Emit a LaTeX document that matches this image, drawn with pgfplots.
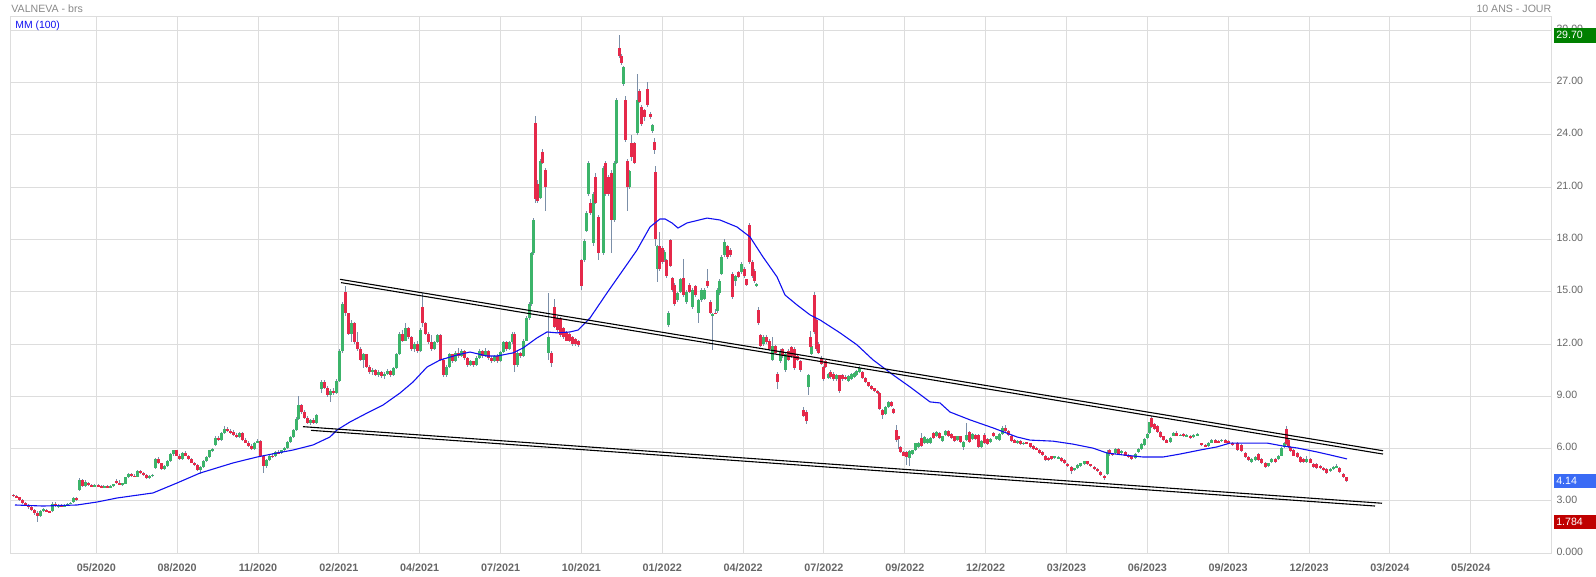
\documentclass[border=0pt]{standalone}
\usepackage{fontspec}
\setmainfont{Liberation Sans}
\usepackage{pgfplots}
\usepackage{pgfplotstable}
\pgfplotsset{compat=1.18}
\definecolor{gridc}{HTML}{DDDDDD}
\definecolor{wickc}{HTML}{7B8FA8}
\definecolor{upc}{HTML}{3CB46A}
\definecolor{dnc}{HTML}{E5294A}
\definecolor{labc}{HTML}{666666}
\definecolor{titc}{HTML}{888888}
\definecolor{boxg}{HTML}{008000}
\definecolor{boxb}{HTML}{3A6BF5}
\definecolor{boxr}{HTML}{C00000}
\definecolor{mac}{HTML}{1010F0}

\pgfplotstableread{
x o h l c
14 3.35 3.40 3.25 3.30
17 3.30 3.35 3.15 3.20
20 3.20 3.25 3.00 3.05
23 3.05 3.10 2.85 2.90
26 2.90 2.95 2.70 2.75
29 2.75 2.85 2.55 2.65
32 2.65 2.70 2.45 2.50
35 2.50 2.55 2.20 2.30
38 2.30 2.40 1.78 2.15
41 2.15 2.50 2.10 2.45
44 2.45 2.60 2.35 2.55
47 2.50 2.55 2.35 2.40
50 2.40 2.45 2.30 2.35
53 2.40 2.95 2.35 2.85
56 2.85 2.95 2.65 2.70
59 2.70 2.80 2.60 2.75
62 2.75 2.85 2.65 2.70
65 2.70 2.80 2.65 2.78
68 2.78 2.90 2.72 2.85
71 2.85 2.95 2.80 2.90
74 2.95 3.20 2.90 3.15
77 3.15 3.25 3.00 3.05
80 3.65 4.30 3.60 4.20
83 4.20 4.25 3.80 3.85
86 3.85 4.20 3.80 4.10
89 4.05 4.10 3.85 3.90
92 3.90 4.00 3.80 3.85
95 3.85 3.95 3.80 3.90
98 3.90 3.95 3.80 3.85
101 3.85 3.90 3.75 3.80
104 3.80 3.90 3.75 3.85
107 3.85 3.90 3.78 3.80
110 3.80 3.90 3.75 3.85
113 3.85 4.00 3.80 3.95
116 4.15 4.25 4.00 4.05
119 4.05 4.20 3.90 3.95
122 3.95 4.05 3.85 4.00
125 4.00 4.40 3.95 4.35
128 4.35 4.60 4.30 4.55
131 4.55 4.60 4.40 4.45
134 4.45 4.55 4.35 4.40
137 4.40 4.75 4.35 4.70
140 4.70 4.80 4.55 4.60
143 4.60 4.65 4.45 4.50
146 4.50 4.55 4.25 4.30
149 4.30 4.50 4.25 4.45
152 4.45 4.55 4.40 4.50
155 4.90 5.45 4.85 5.40
158 5.40 5.50 5.10 5.15
161 5.15 5.20 4.80 4.85
164 4.85 5.05 4.80 5.00
167 5.00 5.35 4.95 5.30
170 5.30 5.75 5.25 5.70
173 5.70 5.95 5.60 5.90
176 5.90 5.95 5.55 5.60
179 5.60 5.70 5.35 5.40
182 5.40 5.80 5.35 5.75
185 5.75 5.85 5.55 5.60
188 5.60 5.65 5.35 5.40
191 5.40 5.45 5.15 5.20
194 5.20 5.25 5.00 5.05
197 5.05 5.10 4.70 4.80
200 4.80 5.00 4.55 4.95
203 4.95 5.35 4.90 5.30
206 5.30 5.55 5.25 5.50
209 5.50 5.95 5.45 5.90
212 5.90 6.05 5.80 5.95
215 6.20 6.70 6.15 6.60
218 6.60 6.75 6.45 6.50
221 6.50 6.95 6.45 6.90
224 6.90 7.30 6.85 7.15
227 7.15 7.25 6.95 7.00
230 7.00 7.10 6.85 6.95
233 6.95 7.05 6.75 6.80
236 6.80 6.90 6.60 6.65
239 6.65 6.95 6.60 6.90
242 6.90 6.95 6.45 6.50
245 6.50 6.60 6.30 6.35
248 6.35 6.45 6.10 6.15
251 6.15 6.25 5.90 6.00
254 6.00 6.40 5.95 6.35
257 6.35 6.55 6.30 6.45
260 6.45 6.50 5.50 5.55
263 5.55 5.60 4.60 5.00
266 5.00 5.40 4.90 5.35
269 5.35 5.70 5.30 5.60
272 5.60 5.75 5.45 5.55
275 5.55 5.85 5.50 5.80
278 5.80 5.95 5.70 5.75
281 5.75 5.95 5.70 5.90
284 5.90 6.10 5.85 6.05
287 6.05 6.45 6.00 6.40
290 6.40 6.70 6.35 6.65
293 6.65 7.10 6.60 7.05
296 7.05 7.80 7.00 7.70
298 7.70 9.00 7.65 8.50
301 8.50 8.55 8.00 8.10
304 8.10 8.20 7.70 7.75
307 7.75 7.85 7.40 7.45
310 7.45 7.70 7.35 7.65
313 7.65 7.75 7.40 7.45
316 7.45 8.00 7.40 7.95
321 9.40 9.95 9.20 9.85
324 9.85 9.95 9.40 9.45
327 9.45 9.60 8.95 9.10
330 9.10 9.40 8.70 9.30
333 9.30 9.45 9.10 9.20
336 9.20 10.00 9.15 9.90
339 9.90 11.70 9.85 11.60
342 11.60 14.40 11.50 14.30
345 15.00 15.30 13.60 13.75
348 13.75 13.80 12.50 12.60
351 12.60 13.40 12.10 13.20
354 13.20 13.25 12.00 12.10
357 12.10 12.70 11.60 11.70
360 11.70 11.80 11.00 11.10
363 11.10 11.50 10.60 11.40
366 11.40 11.45 10.60 10.70
369 10.70 10.80 10.30 10.40
372 10.40 10.60 10.20 10.50
375 10.50 10.55 10.15 10.25
378 10.25 10.50 10.10 10.40
381 10.40 10.45 10.05 10.15
384 10.15 10.40 10.00 10.30
387 10.30 10.55 10.20 10.45
390 10.45 10.50 10.10 10.20
393 10.20 10.70 10.15 10.60
396 10.60 11.50 10.55 11.40
399 11.40 12.70 11.35 12.60
402 12.60 12.80 12.10 12.20
405 12.20 13.20 12.15 12.90
408 12.90 13.00 12.30 12.40
411 12.40 12.45 11.60 11.70
414 11.70 12.10 11.55 12.00
417 12.00 12.20 11.50 11.60
420 11.60 12.90 11.55 12.80
422 14.10 14.90 13.00 13.20
425 13.20 13.25 12.50 12.60
428 12.60 12.70 12.00 12.10
431 12.10 12.50 11.60 11.70
434 11.70 12.20 11.65 12.10
437 12.10 12.60 12.05 12.50
440 12.50 12.55 11.00 11.10
443 11.10 11.20 10.10 10.20
446 10.20 10.80 10.10 10.70
449 10.70 11.50 10.65 11.40
452 11.40 11.45 10.90 11.00
455 11.00 11.60 10.95 11.50
458 11.50 11.75 11.20 11.30
461 11.30 11.70 11.25 11.60
464 11.60 11.65 11.10 11.20
467 11.20 11.25 10.70 10.80
470 10.80 11.10 10.75 11.00
473 11.00 11.05 10.70 10.80
476 10.80 11.30 10.75 11.20
479 11.20 11.70 11.15 11.60
482 11.60 11.65 11.20 11.30
485 11.30 11.75 11.25 11.60
488 11.60 11.65 11.10 11.20
491 11.20 11.30 10.90 11.00
494 11.00 11.35 10.95 11.30
497 11.30 11.40 10.90 11.00
500 11.00 11.60 10.95 11.55
503 11.55 12.20 11.50 12.10
506 12.10 12.20 11.60 11.70
509 11.70 12.20 11.65 12.10
512 12.10 12.70 12.00 12.60
514 12.60 12.70 10.40 10.80
517 10.80 11.60 10.70 11.50
520 11.50 11.55 11.20 11.30
523 11.30 12.30 11.25 12.20
526 12.20 13.60 12.15 13.50
529 13.50 14.40 13.40 14.30
531 14.30 17.30 14.20 17.20
533 17.20 19.20 17.10 19.10
535 24.70 25.10 20.10 20.30
537 21.20 21.40 20.10 20.20
540 20.40 22.60 20.30 22.50
542 23.00 23.20 22.30 22.40
545 22.00 22.10 19.60 21.00
548 11.50 14.90 11.10 12.40
551 11.50 11.60 10.70 10.90
554 14.10 14.60 12.90 13.00
557 13.50 13.60 12.70 12.80
560 13.50 13.55 12.40 12.50
563 12.90 13.00 12.30 12.40
566 12.70 12.75 12.15 12.20
569 12.60 12.65 12.10 12.20
572 12.40 12.45 11.90 12.00
575 12.30 12.35 11.90 12.00
578 12.20 12.25 11.80 11.95
581 16.80 16.90 15.10 15.30
584 16.80 18.00 16.70 17.90
586 18.50 19.60 18.40 19.50
588 20.60 22.50 20.50 22.40
590 20.10 20.30 19.40 19.50
593 17.80 20.70 17.60 20.60
595 21.60 21.80 20.00 20.10
598 19.30 19.40 16.80 17.20
603 17.20 22.20 17.10 22.10
605 22.40 22.50 20.50 20.60
608 21.60 21.70 20.50 20.60
611 21.80 22.00 17.20 19.10
614 19.10 22.50 19.00 22.40
616 22.40 26.10 22.30 26.00
619 29.00 29.70 28.40 28.50
621 28.50 28.60 28.00 28.10
623 26.90 27.95 26.80 27.90
625 26.00 26.20 23.60 23.70
627 22.50 22.60 19.60 21.00
629 21.00 22.00 20.90 21.90
631 23.50 24.00 22.50 22.70
634 23.50 23.60 22.30 22.40
637 24.10 27.50 24.00 26.00
639 26.50 26.60 25.80 25.90
641 25.60 25.70 24.50 24.60
644 25.40 25.50 24.80 25.00
647 26.60 27.00 25.60 25.70
650 25.20 25.30 24.90 25.00
652 24.20 24.60 24.10 24.55
654 23.60 23.80 22.90 23.10
655 21.85 22.20 17.60 18.00
657 16.30 17.70 15.55 17.60
659 17.60 18.40 16.20 16.30
662 17.50 17.60 16.60 16.70
664 16.80 17.40 16.70 17.30
666 16.80 16.90 15.80 15.90
668 13.10 13.90 12.95 13.80
670 17.95 18.00 16.40 16.50
672 15.80 15.85 15.00 15.10
674 15.40 15.50 14.20 14.30
677 14.50 15.00 14.40 14.90
680 15.00 15.80 14.90 15.70
683 15.80 16.90 14.70 14.80
686 14.40 15.10 14.30 15.00
689 15.40 15.50 14.90 15.00
692 14.10 15.20 14.00 15.10
695 15.30 15.40 14.70 14.80
698 13.80 14.60 13.20 14.50
701 14.50 15.20 14.40 15.10
704 14.60 15.20 14.50 15.10
707 15.60 16.30 15.20 15.30
710 14.40 14.50 13.70 13.80
712 13.60 13.80 11.65 13.70
715 13.80 14.00 13.70 13.75
717 13.90 15.20 13.80 15.10
719 14.90 15.70 14.80 15.60
721 16.00 17.10 15.95 17.00
724 17.10 18.00 17.00 17.85
727 17.60 17.70 16.90 17.00
730 17.40 17.50 17.00 17.10
732 16.00 16.10 14.60 14.70
735 15.60 15.95 15.30 15.90
738 16.10 16.20 15.80 15.85
741 16.10 16.70 16.00 16.60
744 16.30 16.40 15.80 15.90
746 15.70 15.75 15.30 15.40
749 18.85 18.95 16.60 16.70
752 16.70 16.80 15.80 15.90
754 16.20 16.30 15.50 15.60
756 15.30 15.50 15.25 15.45
758 13.95 14.10 13.10 13.20
760 12.50 12.60 11.80 11.90
763 12.00 12.50 11.90 12.40
766 12.40 12.50 12.00 12.10
769 12.20 12.30 11.60 11.70
772 11.10 12.40 11.00 11.90
775 11.90 11.95 11.40 11.50
777 10.30 10.40 9.40 9.80
780 11.00 11.70 10.90 11.60
782 11.70 11.75 11.20 11.30
785 10.50 11.50 10.40 11.40
788 11.60 11.70 11.00 11.10
791 11.80 11.90 11.20 11.30
794 11.70 11.80 10.50 10.60
797 11.30 11.40 11.00 11.10
800 11.00 11.10 10.40 10.50
803 8.20 8.40 7.80 7.85
806 8.10 8.20 7.40 7.60
808 9.55 10.30 9.05 10.25
810 12.40 12.75 11.80 11.85
811 11.40 12.00 11.35 11.90
814 14.80 15.00 12.60 12.70
816 13.40 13.50 11.60 11.70
818 12.00 12.10 11.40 11.50
821 11.20 11.30 10.80 10.85
823 10.70 10.75 9.90 10.00
825 11.00 11.10 10.60 10.70
828 10.05 10.35 10.00 10.30
830 10.40 10.50 10.00 10.10
833 10.30 10.40 9.90 10.00
836 10.00 10.30 9.90 10.20
839 10.20 10.25 9.20 9.30
842 10.25 10.30 9.90 10.00
845 10.10 10.20 9.95 10.00
848 9.90 10.20 9.85 10.15
851 10.00 10.35 9.95 10.30
854 10.10 10.40 10.05 10.35
856 10.20 10.50 10.15 10.45
859 10.40 10.75 10.35 10.60
862 10.40 10.45 10.00 10.05
865 10.05 10.10 9.75 9.80
868 9.80 9.85 9.55 9.60
871 9.60 9.65 9.35 9.40
874 9.45 9.50 9.25 9.30
877 9.30 9.35 9.15 9.20
879 9.20 9.25 8.20 8.30
882 8.20 8.25 7.70 7.95
885 8.00 8.45 7.95 8.40
888 8.40 8.75 8.35 8.70
891 8.70 8.75 8.40 8.45
893 8.30 8.35 8.00 8.05
896 7.05 7.35 6.40 6.50
898 6.70 6.75 6.00 6.55
900 6.10 6.15 5.75 5.80
903 5.80 5.85 5.55 5.60
906 5.80 5.85 5.05 5.50
909 5.45 5.90 5.00 5.85
912 5.70 5.95 5.65 5.90
915 5.90 6.35 5.85 6.30
918 6.10 6.40 6.05 6.35
921 6.60 6.90 6.10 6.15
924 6.30 6.70 6.25 6.65
927 6.30 6.60 6.25 6.55
930 6.30 6.65 6.25 6.60
933 6.90 6.95 6.55 6.60
936 6.70 7.00 6.65 6.95
939 6.90 6.95 6.55 6.60
942 6.45 6.75 6.40 6.70
945 6.80 7.05 6.75 7.00
948 7.00 7.05 6.65 6.70
951 6.85 6.90 6.55 6.60
954 6.70 6.75 6.40 6.45
957 6.50 6.75 6.45 6.70
960 6.70 6.75 6.35 6.40
963 6.10 6.45 5.95 6.40
966 6.50 7.45 6.45 6.80
969 6.95 7.00 6.35 6.40
972 6.55 6.90 6.50 6.85
975 6.80 6.85 6.50 6.55
978 6.80 6.85 6.05 6.10
981 6.10 6.50 6.05 6.45
984 6.80 6.90 6.25 6.30
987 6.55 6.60 6.20 6.25
990 6.40 6.60 6.35 6.55
993 6.90 6.95 6.65 6.70
996 6.55 6.75 6.50 6.70
999 6.50 6.90 6.45 6.85
1002 6.85 7.30 6.80 7.20
1005 7.20 7.35 6.95 7.00
1008 7.00 7.05 6.75 6.80
1011 6.75 6.80 6.40 6.45
1014 6.50 6.55 6.30 6.35
1017 6.30 6.50 6.25 6.45
1020 6.45 6.50 6.20 6.25
1023 6.25 6.40 6.20 6.35
1026 6.35 6.40 6.25 6.30
1030 6.30 6.35 6.05 6.10
1033 6.15 6.20 5.95 6.00
1036 6.05 6.10 5.90 5.95
1039 5.95 6.00 5.70 5.75
1042 5.80 5.85 5.60 5.65
1045 5.60 5.65 5.30 5.35
1048 5.45 5.50 5.30 5.35
1051 5.55 5.60 5.35 5.40
1054 5.45 5.60 5.40 5.55
1058 5.45 5.55 5.40 5.50
1061 5.45 5.50 5.25 5.30
1064 5.35 5.40 5.10 5.15
1067 5.10 5.15 4.95 5.00
1071 4.95 5.00 4.55 4.70
1074 4.75 4.90 4.70 4.88
1077 4.90 5.10 4.85 5.05
1080 5.00 5.20 4.95 5.15
1084 5.10 5.30 5.05 5.28
1087 5.28 5.32 5.05 5.10
1090 5.10 5.12 4.95 5.00
1094 4.95 5.00 4.80 4.85
1097 4.85 4.88 4.65 4.70
1100 4.65 4.70 4.45 4.50
1104 4.45 4.50 4.20 4.30
1107 4.55 5.95 4.50 5.80
1109 5.90 6.00 5.60 5.70
1112 5.70 5.75 5.55 5.65
1115 5.75 6.05 5.70 6.00
1118 6.00 6.05 5.65 5.70
1121 5.75 5.90 5.70 5.85
1125 5.80 5.85 5.55 5.60
1128 5.65 5.70 5.45 5.50
1131 5.55 5.60 5.35 5.40
1135 5.45 5.75 5.40 5.70
1138 5.80 6.05 5.75 6.00
1141 6.00 6.30 5.95 6.25
1144 6.20 6.60 6.15 6.55
1147 6.60 6.90 6.55 6.85
1149 6.90 7.55 6.85 7.50
1151 7.75 7.85 7.20 7.25
1154 7.40 7.45 7.05 7.10
1157 7.30 7.35 6.90 6.95
1160 6.95 7.00 6.60 6.65
1163 6.70 6.75 6.45 6.50
1166 6.50 6.55 6.30 6.35
1170 6.40 6.65 6.35 6.60
1173 6.75 6.95 6.70 6.90
1176 6.90 7.00 6.70 6.75
1180 6.75 6.85 6.70 6.80
1183 6.85 6.90 6.65 6.70
1186 6.70 6.85 6.65 6.80
1190 6.75 6.80 6.55 6.60
1193 6.65 6.85 6.60 6.80
1197 6.75 6.90 6.70 6.85
1201 6.30 6.35 6.15 6.20
1205 6.20 6.25 6.10 6.15
1208 6.15 6.40 6.10 6.35
1211 6.35 6.55 6.30 6.50
1215 6.50 6.55 6.30 6.35
1218 6.45 6.50 6.30 6.35
1221 6.45 6.55 6.40 6.50
1225 6.50 6.55 6.30 6.35
1228 6.45 6.50 6.25 6.30
1232 6.35 6.40 6.15 6.20
1237 6.35 6.40 5.85 5.90
1241 6.20 6.25 5.80 5.85
1245 5.75 5.80 5.45 5.50
1248 5.50 5.55 5.30 5.35
1251 5.25 5.45 5.20 5.40
1255 5.35 5.55 5.30 5.50
1258 5.70 5.75 5.30 5.35
1261 5.40 5.45 5.10 5.15
1265 5.20 5.25 4.90 4.95
1268 5.00 5.20 4.95 5.15
1271 5.25 5.45 5.20 5.40
1275 5.40 5.45 5.20 5.25
1278 5.40 5.65 5.35 5.60
1281 5.60 6.10 5.55 6.05
1284 6.10 6.40 6.05 6.35
1286 7.15 7.30 6.20 6.25
1288 6.50 6.55 6.05 6.10
1290 6.10 6.15 5.80 5.85
1293 5.95 6.00 5.55 5.60
1297 5.75 5.80 5.45 5.50
1300 5.50 5.55 5.20 5.25
1303 5.40 5.45 5.20 5.25
1306 5.25 5.55 5.20 5.40
1310 5.40 5.45 5.15 5.20
1313 5.10 5.15 4.90 4.95
1316 5.10 5.15 4.85 4.90
1320 5.00 5.05 4.85 4.90
1323 4.90 4.95 4.70 4.75
1326 4.85 4.90 4.55 4.60
1330 4.70 4.90 4.65 4.85
1333 4.85 5.00 4.80 4.95
1336 4.95 5.10 4.90 5.00
1339 4.90 4.95 4.60 4.65
1343 4.55 4.60 4.30 4.35
1346 4.35 4.40 4.10 4.14
}\candles

\begin{document}
\begin{tikzpicture}
\begin{axis}[
  at={(5.5pt,11.85pt)}, anchor=south west,
  scale only axis, width=770.35pt, height=268.15pt,
  xmin=11, xmax=1551.7, ymin=0, ymax=30.75,
  clip=false,
  axis line style={draw=gridc, line width=0.5pt},
  grid=major, major grid style={draw=gridc, line width=0.5pt},
  tick style={draw=none},
  xtick={96.3,177.15,258,338.85,419.7,500.55,581.4,662.25,743.1,823.95,904.8,985.65,1066.5,1147.35,1228.2,1309.05,1389.9,1470.75},
  xticklabels={05/2020,08/2020,11/2020,02/2021,04/2021,07/2021,10/2021,01/2022,04/2022,07/2022,09/2022,12/2022,03/2023,06/2023,09/2023,12/2023,03/2024,05/2024},
  xticklabel style={anchor=base, yshift=-9.2pt, inner sep=0pt, font=\fontsize{5.4}{6}\selectfont\bfseries, text=labc},
  ytick={0,3,6,9,12,15,18,21,24,27,30},
  yticklabels={0.000,3.00,6.00,9.00,12.00,15.00,18.00,21.00,24.00,27.00,30.00},
  yticklabel pos=right,
  yticklabel style={anchor=west, xshift=2.2pt, yshift=0.8pt, inner sep=0pt, font=\fontsize{5.3}{6}\selectfont, text=labc},
]
% wicks
\addplot[draw=none, mark=none, forget plot,
  error bars/.cd, y dir=both, y explicit, error mark=none,
  error bar style={draw=wickc, line width=0.5pt}]
  table[x=x, y expr={0.5*(\thisrow{h}+\thisrow{l})}, y error expr={0.5*(\thisrow{h}-\thisrow{l})}]{\candles};
% up bodies
\addplot[draw=none, mark=none, forget plot,
  error bars/.cd, y dir=both, y explicit, error mark=none,
  error bar style={draw=upc, line width=1.5pt}]
  table[x=x, y expr={\thisrow{c}<\thisrow{o} ? nan : 0.5*(\thisrow{o}+\thisrow{c})}, y error expr={max(0.5*abs(\thisrow{c}-\thisrow{o}),0.03)}]{\candles};
% down bodies
\addplot[draw=none, mark=none, forget plot,
  error bars/.cd, y dir=both, y explicit, error mark=none,
  error bar style={draw=dnc, line width=1.5pt}]
  table[x=x, y expr={\thisrow{c}<\thisrow{o} ? 0.5*(\thisrow{o}+\thisrow{c}) : nan}, y error expr={max(0.5*abs(\thisrow{c}-\thisrow{o}),0.03)}]{\candles};
% moving average 100
\addplot[mac, line width=0.55pt, mark=none] coordinates {
(15,2.77)(43,2.71)(77,2.77)(97,2.94)(117,3.17)(153,3.46)(177,4.03)(200,4.60)(233,5.18)(257,5.52)(277,5.75)(293,5.92)(313,6.21)(330,6.67)(337,7.07)(350,7.53)(367,8.04)(383,8.50)(400,9.19)(413,9.82)(427,10.68)(440,11.08)(457,11.37)(470,11.54)(487,11.31)(497,11.31)(513,11.49)(523,11.77)(537,12.35)(547,12.69)(557,12.64)(570,12.69)(578,12.80)(590,13.49)(607,14.93)(623,16.24)(637,17.39)(650,18.71)(660,19.17)(665,19.17)(672,18.94)(678,18.65)(687,18.94)(707,19.22)(720,19.11)(737,18.71)(750,18.14)(763,16.99)(777,15.85)(785,14.81)(797,14.24)(810,13.67)(820,13.38)(840,12.64)(857,11.95)(873,11.09)(893,10.23)(910,9.54)(930,8.68)(940,8.62)(950,8.10)(970,7.65)(993,7.19)(1017,6.67)(1030,6.49)(1053,6.43)(1073,6.26)(1093,6.03)(1107,5.75)(1123,5.64)(1143,5.52)(1163,5.52)(1180,5.69)(1200,5.92)(1217,6.10)(1230,6.32)(1247,6.32)(1267,6.32)(1283,6.15)(1297,6.04)(1317,5.81)(1330,5.64)(1347,5.41)
};
% trend lines
\addplot[black, line width=0.55pt, mark=none] coordinates {(340,15.71)(1383,5.88)};
\addplot[black, line width=0.55pt, mark=none] coordinates {(341,15.52)(1383,5.69)};
\addplot[black, line width=0.55pt, mark=none] coordinates {(303,7.26)(1382,2.87)};
\addplot[black, line width=0.55pt, mark=none] coordinates {(311,7.05)(1375,2.71)};
% price boxes
\node[anchor=west, fill=boxg, text=white, inner xsep=1.3pt, inner ysep=0pt, minimum height=7.25pt, text width=19pt, align=left, font=\fontsize{5.3}{6}\selectfont] at (axis cs:1553.3,29.70) {29.70};
\node[anchor=west, fill=boxb, text=white, inner xsep=1.3pt, inner ysep=0pt, minimum height=7.25pt, text width=19pt, align=left, font=\fontsize{5.3}{6}\selectfont] at (axis cs:1553.3,4.14) {4.14};
\node[anchor=west, fill=boxr, text=white, inner xsep=1.3pt, inner ysep=0pt, minimum height=7.25pt, text width=19pt, align=left, font=\fontsize{5.3}{6}\selectfont] at (axis cs:1553.3,1.784) {1.784};
% texts
\node[anchor=base west, inner sep=0pt, text=titc, font=\fontsize{5.3}{6}\selectfont] at ([yshift=2.2pt]rel axis cs:0,1) {VALNEVA - brs};
\node[anchor=base east, inner sep=0pt, text=titc, font=\fontsize{5.3}{6}\selectfont] at ([yshift=2.2pt]rel axis cs:1,1) {10 ANS - JOUR};
\node[anchor=base west, inner sep=0pt, text=mac, font=\fontsize{5.2}{6}\selectfont] at ([xshift=2pt,yshift=-6pt]rel axis cs:0,1) {MM (100)};
\end{axis}
\pgfresetboundingbox
\path (0,0) rectangle (798pt,288.5pt);
\end{tikzpicture}
\end{document}
